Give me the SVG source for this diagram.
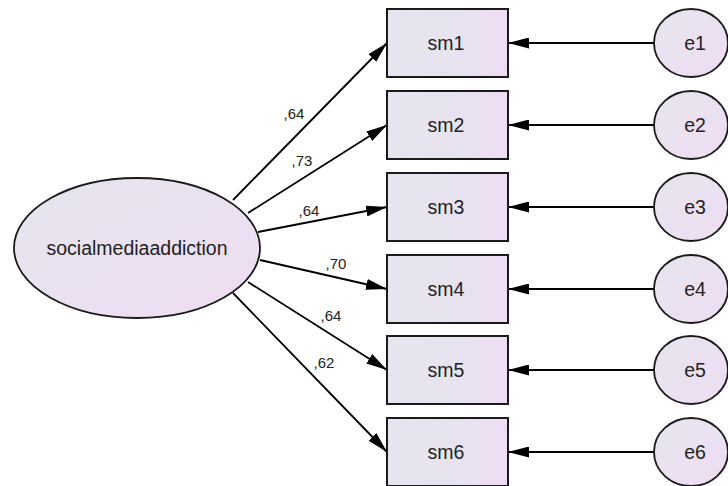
<svg xmlns="http://www.w3.org/2000/svg" width="728" height="486" viewBox="0 0 728 486">
  <defs>
    <linearGradient id="fillBox" x1="0" y1="0" x2="1" y2="0">
      <stop offset="0" stop-color="#e4e6ef"/>
      <stop offset="0.65" stop-color="#e8e2f0"/>
      <stop offset="1" stop-color="#eedcf3"/>
    </linearGradient>
    <linearGradient id="fillLatent" x1="0" y1="0" x2="1" y2="1">
      <stop offset="0" stop-color="#e6e6ee"/>
      <stop offset="1" stop-color="#efdcf3"/>
    </linearGradient>
    <marker id="arrow" viewBox="0 0 21 11" refX="21" refY="5.5" markerWidth="21" markerHeight="11" markerUnits="userSpaceOnUse" orient="auto">
      <path d="M0,0 L21,5.5 L0,11 Z" fill="#000"/>
    </marker>
  </defs>
  <style>
    .box { fill: url(#fillBox); stroke: #1a1a1a; stroke-width: 2; }
    .lat { fill: url(#fillLatent); stroke: #1a1a1a; stroke-width: 1.8; }
    .lbl { font-family: "Liberation Sans", Arial, sans-serif; font-size: 19.5px; fill: #222; text-anchor: middle; dominant-baseline: central; }
    .coef { font-family: "Liberation Sans", Arial, sans-serif; font-size: 15px; fill: #222; text-anchor: middle; dominant-baseline: central; }
    .edge { stroke: #000; stroke-width: 1.8; fill: none; marker-end: url(#arrow); }
  </style>
  <rect width="728" height="486" fill="#ffffff"/>

  <g id="connectors">
    <!-- factor loadings -->
    <line class="edge" x1="233" y1="200" x2="387" y2="43"/>
    <line class="edge" x1="248" y1="213" x2="387" y2="125"/>
    <line class="edge" x1="258" y1="232" x2="387" y2="207"/>
    <line class="edge" x1="260" y1="260" x2="387" y2="289"/>
    <line class="edge" x1="248" y1="282" x2="387" y2="370"/>
    <line class="edge" x1="233" y1="293" x2="387" y2="452"/>
    <!-- error terms -->
    <line class="edge" x1="654" y1="43" x2="508" y2="43"/>
    <line class="edge" x1="654" y1="125" x2="508" y2="125"/>
    <line class="edge" x1="654" y1="207" x2="508" y2="207"/>
    <line class="edge" x1="654" y1="289" x2="508" y2="289"/>
    <line class="edge" x1="654" y1="370" x2="508" y2="370"/>
    <line class="edge" x1="654" y1="452" x2="508" y2="452"/>
    <!-- loading values -->
    <text class="coef" x="294" y="113">,64</text>
    <text class="coef" x="302" y="160">,73</text>
    <text class="coef" x="309" y="210">,64</text>
    <text class="coef" x="336" y="263">,70</text>
    <text class="coef" x="331" y="315">,64</text>
    <text class="coef" x="324" y="362">,62</text>
  </g>

  <g id="socialmediaaddiction">
    <ellipse class="lat" cx="137" cy="248" rx="123" ry="70"/>
    <text class="lbl" x="137" y="248" font-size="20.5">socialmediaaddiction</text>
  </g>

  <g id="sm1"><rect class="box" x="387" y="9" width="121" height="68"/><text class="lbl" x="446" y="43">sm1</text></g>
  <g id="sm2"><rect class="box" x="387" y="91" width="121" height="68"/><text class="lbl" x="446" y="125">sm2</text></g>
  <g id="sm3"><rect class="box" x="387" y="173" width="121" height="68"/><text class="lbl" x="446" y="207">sm3</text></g>
  <g id="sm4"><rect class="box" x="387" y="255" width="121" height="68"/><text class="lbl" x="446" y="289">sm4</text></g>
  <g id="sm5"><rect class="box" x="387" y="336" width="121" height="68"/><text class="lbl" x="446" y="370">sm5</text></g>
  <g id="sm6"><rect class="box" x="387" y="418" width="121" height="68"/><text class="lbl" x="446" y="452">sm6</text></g>

  <g id="e1"><ellipse class="lat" cx="691" cy="43" rx="37" ry="34"/><text class="lbl" x="695" y="43">e1</text></g>
  <g id="e2"><ellipse class="lat" cx="691" cy="125" rx="37" ry="34"/><text class="lbl" x="695" y="125">e2</text></g>
  <g id="e3"><ellipse class="lat" cx="691" cy="207" rx="37" ry="34"/><text class="lbl" x="695" y="207">e3</text></g>
  <g id="e4"><ellipse class="lat" cx="691" cy="289" rx="37" ry="34"/><text class="lbl" x="695" y="289">e4</text></g>
  <g id="e5"><ellipse class="lat" cx="691" cy="370" rx="37" ry="34"/><text class="lbl" x="695" y="370">e5</text></g>
  <g id="e6"><ellipse class="lat" cx="691" cy="452" rx="37" ry="34"/><text class="lbl" x="695" y="452">e6</text></g>
</svg>
